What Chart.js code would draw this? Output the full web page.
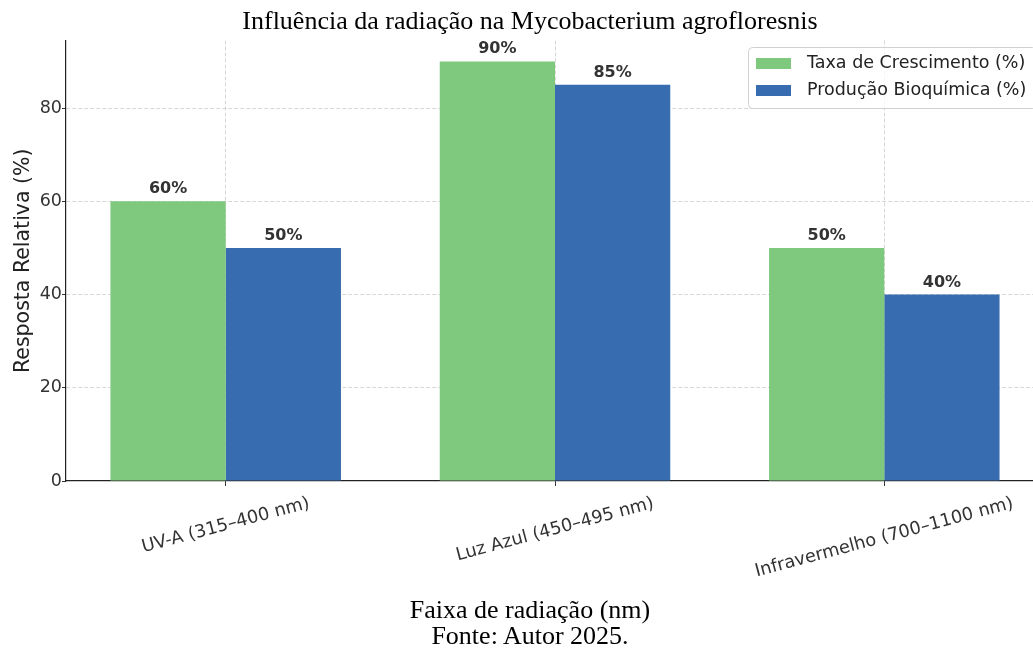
<!DOCTYPE html>
<html><head><meta charset="utf-8">
<script src="https://cdn.jsdelivr.net/npm/chart.js@4"></script>
<style>
html,body{margin:0;padding:0;overflow:hidden;background:#fff;width:1033px;height:657px}
#wrap{position:relative;width:1060px;height:657px}
canvas{position:absolute;left:0;top:0}
.serif{position:absolute;left:0;width:1060px;text-align:center;font-family:"Liberation Serif","Times New Roman",serif;font-size:26px;color:#000;white-space:nowrap}
</style></head>
<body>
<div id="wrap">
<canvas id="c" width="1060" height="657"></canvas>
<div class="serif" style="top:6.5px;line-height:27px">Influência da radiação na Mycobacterium agrofloresnis</div>
<div class="serif" style="top:597px;line-height:26px">Faixa de radiação (nm)<br>Fonte: Autor 2025.</div>
</div>
<script>
const categories = ["UV-A (315–400 nm)", "Luz Azul (450–495 nm)", "Infravermelho (700–1100 nm)"];
const growthValues = [60, 90, 50];
const biochemValues = [50, 85, 40];
const yTicks = [0, 20, 40, 60, 80];
const seriesNames = ["Taxa de Crescimento (%)", "Produção Bioquímica (%)"];
const colors = ["#7fc97f", "#386cb0"];

const FONT = "'DejaVu Sans', sans-serif";

const barLabels = {
  id: 'barLabels',
  afterDatasetsDraw(chart) {
    const ctx = chart.ctx;
    ctx.save();
    ctx.font = "bold 16px " + FONT;
    ctx.fillStyle = '#333';
    ctx.textAlign = 'center';
    ctx.textBaseline = 'alphabetic';
    chart.data.datasets.forEach((ds, di) => {
      chart.getDatasetMeta(di).data.forEach((bar, i) => {
        ctx.fillText(ds.data[i].y + '%', bar.x, bar.y - 8);
      });
    });
    ctx.restore();
  }
};

const xLabels = {
  id: 'xLabels',
  afterDraw(chart) {
    const ctx = chart.ctx, sx = chart.scales.x;
    const base = chart.chartArea.bottom;
    const ang = 15 * Math.PI / 180;
    ctx.save();
    ctx.font = "17.8px " + FONT;
    ctx.fillStyle = '#333';
    ctx.textAlign = 'center';
    ctx.textBaseline = 'middle';
    categories.forEach((lab, i) => {
      const x = sx.getPixelForValue(i);
      const L = ctx.measureText(lab).width;
      const h = 21;
      const ext = L * Math.sin(ang) + h * Math.cos(ang);
      const cy = base + 12 + ext / 2;
      ctx.save();
      ctx.translate(x, cy);
      ctx.rotate(-ang);
      ctx.fillText(lab, 0, 0);
      ctx.restore();
    });
    ctx.restore();
  }
};

const legendBox = {
  id: 'legendBox',
  afterDraw(chart) {
    const ctx = chart.ctx;
    ctx.save();
    const x0 = 748, y0 = 47, w = 288, h = 61, r = 4;
    ctx.beginPath();
    ctx.roundRect(x0 + 0.5, y0 + 0.5, w, h, r);
    ctx.fillStyle = 'rgba(255,255,255,0.8)';
    ctx.fill();
    ctx.strokeStyle = '#d0d0d0';
    ctx.lineWidth = 1;
    ctx.stroke();
    ctx.font = "17.5px " + FONT;
    ctx.textBaseline = 'middle';
    ctx.textAlign = 'left';
    chart.data.datasets.forEach((ds, i) => {
      const cy = 63 + i * 27;
      ctx.fillStyle = ds.backgroundColor;
      ctx.fillRect(756, cy - 5, 35, 11);
      ctx.fillStyle = '#222';
      ctx.fillText(ds.label, 807, cy);
    });
    ctx.restore();
  }
};

const mk = (vals) => vals.map((v, i) => ({x: i, y: v}));

new Chart(document.getElementById('c'), {
  type: 'bar',
  data: {
    datasets: [
      {label: seriesNames[0], data: mk(growthValues), backgroundColor: colors[0]},
      {label: seriesNames[1], data: mk(biochemValues), backgroundColor: colors[1]}
    ]
  },
  options: {
    responsive: false,
    animation: false,
    devicePixelRatio: 1,
    categoryPercentage: 0.7,
    barPercentage: 1.0,
    layout: {padding: {left: 0, top: 40.5, right: 16, bottom: 0}},
    plugins: {legend: {display: false}, tooltip: {enabled: false}, title: {display: false}},
    scales: {
      x: {
        type: 'linear',
        offset: false,
        min: -0.485, max: 2.485,
        afterBuildTicks: (s) => { s.ticks = categories.map((c, i) => ({value: i})); },
        afterFit: (s) => { s.height = 657 - 481; },
        ticks: {display: false},
        grid: {offset: false, color: 'rgba(176,176,176,0.5)', lineWidth: 1, tickLength: 5, tickColor: '#333', tickBorderDash: [], drawTicks: true},
        border: {display: true, color: '#222', width: 1.2, dash: [4, 2]}
      },
      y: {
        min: 0, max: 94.5,
        afterBuildTicks: (s) => { s.ticks = yTicks.map(v => ({value: v})); },
        afterFit: (s) => { s.width = 66; },
        ticks: {font: {family: FONT, size: 17.5}, color: '#333', padding: 0},
        grid: {color: (c) => c.tick && c.tick.value === 0 ? 'rgba(0,0,0,0)' : 'rgba(176,176,176,0.5)', tickLength: 4, tickColor: '#333', tickBorderDash: []},
        border: {display: true, color: '#222', width: 1.2, dash: [4, 2]},
        title: {display: true, text: 'Resposta Relativa (%)', font: {family: FONT, size: 20.5}, color: '#222', padding: {top: 11, bottom: 0}}
      }
    }
  },
  plugins: [barLabels, xLabels, legendBox]
});
</script>
</body></html>
